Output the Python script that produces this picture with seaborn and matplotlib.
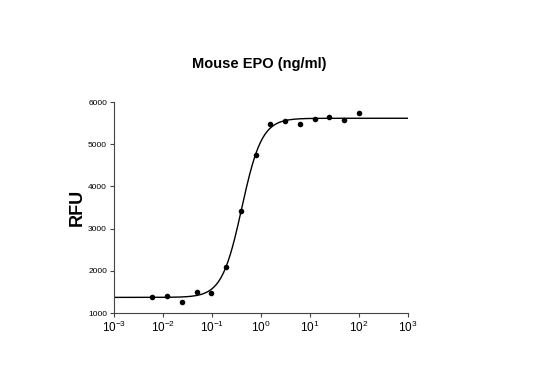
import numpy as np
import pandas as pd
import matplotlib
matplotlib.use("Agg")
import matplotlib.pyplot as plt
import seaborn as sns
from matplotlib.ticker import LogLocator, LogFormatterSciNotation, NullLocator

# Data
conc = [0.0061, 0.0122, 0.0244, 0.0488, 0.0977, 0.195, 0.39, 0.78,
        1.56, 3.125, 6.25, 12.5, 25, 50, 100]
rfu = [1370, 1410, 1270, 1490, 1480, 2095, 3410, 4755,
       5470, 5550, 5470, 5600, 5640, 5585, 5730]

# 4-parameter logistic fit parameters (fitted curve)
fit_bottom = 1370
fit_top = 5615
fit_ec50 = 0.407
fit_hill = 2.13

sns.set_theme(style="ticks")
plt.rcParams['font.family'] = ['Liberation Sans', 'DejaVu Sans']
plt.rcParams['axes.unicode_minus'] = False
plt.rcParams['text.color'] = 'black'
plt.rcParams['xtick.labelcolor'] = 'black'
plt.rcParams['ytick.labelcolor'] = 'black'
plt.rcParams['axes.labelcolor'] = 'black'

fig = plt.figure(figsize=(5.41, 3.85), dpi=100)
ax = fig.add_axes([0.2107, 0.187, 0.5433, 0.548])

xfit = np.logspace(-3, 3, 400)
yfit = fit_bottom + (fit_top - fit_bottom) * xfit**fit_hill / (fit_ec50**fit_hill + xfit**fit_hill)
df_fit = pd.DataFrame({"x": xfit, "y": yfit})
df = pd.DataFrame({"x": conc, "y": rfu})

sns.lineplot(data=df_fit, x="x", y="y", ax=ax, color="black", linewidth=1.0)
sns.scatterplot(data=df, x="x", y="y", ax=ax, color="black", s=16, edgecolor="black", linewidth=0, zorder=3)

ax.set_xscale("log")
ax.set_xlim(1e-3, 1e3)
ax.set_ylim(1000, 6000)
ax.xaxis.set_major_locator(LogLocator(base=10, numticks=10))
ax.xaxis.set_major_formatter(LogFormatterSciNotation())
ax.xaxis.set_minor_locator(NullLocator())
ax.set_yticks([1000, 2000, 3000, 4000, 5000, 6000])
ax.tick_params(axis="y", labelsize=6, length=3, width=0.8, color="#444", labelcolor="black", pad=2)
ax.tick_params(axis="x", labelsize=8.5, length=3, width=0.8, color="#444", labelcolor="black", pad=2)
for s in ["left", "bottom"]:
    ax.spines[s].set_color("#444")
    ax.spines[s].set_linewidth(0.8)
sns.despine(ax=ax)

ax.set_xlabel("")
ax.set_ylabel("RFU", fontsize=13, fontweight="bold", labelpad=2, color="black")
fig.text(0.48, 0.835, "Mouse EPO (ng/ml)", ha="center", va="center", fontsize=10.5,
         fontweight="bold", color="black")

fig.savefig("out.png", dpi=100, facecolor="white")
